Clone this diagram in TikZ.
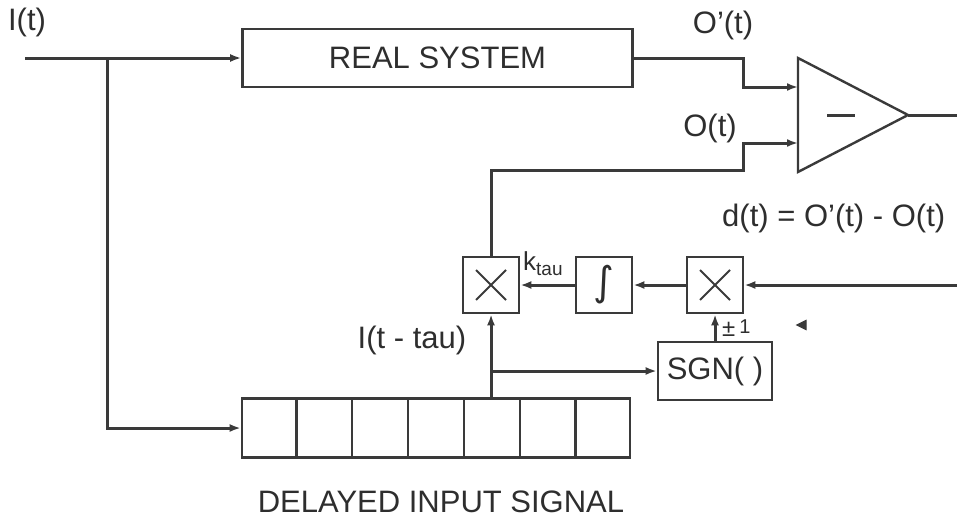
\documentclass[tikz,border=0pt]{standalone}
\usepackage{fontspec}
\setmainfont{Liberation Sans}
\newfontfamily\symfont{DejaVu Sans}
\usetikzlibrary{arrows.meta,calc}
\definecolor{ink}{HTML}{3A3A3A}
\definecolor{txt}{HTML}{2E2E2E}
\tikzset{
  sig/.style={draw=ink, line width=3pt},
  arr/.style={sig, -{Latex[length=11pt,width=8pt]}},
  blk/.style={draw=ink, line width=2.6pt, rectangle, inner sep=0pt},
  lbl/.style={text=txt, inner sep=0pt, font=\fontsize{31}{36}\selectfont},
  mult/.style={blk, minimum width=56pt, minimum height=56pt,
    path picture={\draw[ink, line width=1.8pt]
      ([shift={(13pt,13pt)}]path picture bounding box.south west) --
      ([shift={(-13pt,-13pt)}]path picture bounding box.north east)
      ([shift={(13pt,-13pt)}]path picture bounding box.north west) --
      ([shift={(-13pt,13pt)}]path picture bounding box.south east);}}
}
\begin{document}
\begin{tikzpicture}[x=1pt,y=-1pt]
\useasboundingbox (0,0) rectangle (957,519);

% blocks
\node[blk, minimum width=390pt, minimum height=58pt, text=txt,
      font=\fontsize{31}{36}\selectfont] (rs) at (437.5,58) {REAL SYSTEM};
\node[mult] (mulL) at (491,285) {};
\node[blk, minimum width=56pt, minimum height=56pt, text=txt] (integ) at (604,285)
     {\symfont\fontsize{40}{44}\selectfont ∫};
\node[mult] (mulR) at (715,285) {};
\node[blk, minimum width=114pt, minimum height=58pt, text=txt,
      font=\fontsize{31}{36}\selectfont] (sgn) at (715,371) {SGN( )};
\node[blk, minimum width=388pt, minimum height=59pt] (reg) at (436,428) {};
\foreach \i in {1,...,6}
  \draw[ink, line width=2.2pt] ($(reg.north west)!\i/7!(reg.north east)$) --
                                ($(reg.south west)!\i/7!(reg.south east)$);

% amplifier (subtractor)
\coordinate (ampT) at (798,58);
\coordinate (ampB) at (798,172);
\coordinate (ampO) at (908,115);
\coordinate (ampA) at (798,87);
\coordinate (ampC) at (798,143);
\draw[ink, line width=2.4pt, line join=miter] (ampT) -- (ampO) -- (ampB) -- cycle;
\draw[ink, line width=3pt] (827,115) -- (855,115);

% free ends
\coordinate (in) at (25,58);
\coordinate (br) at (107,58);
\coordinate (out) at (957,115);
\coordinate (din) at (957,285);

% connectors
\draw[arr] (in) -- (rs.west);
\draw[arr] (br) |- (reg.west);
\draw[arr] (rs.east) -- ++(110,0) |- (ampA);
\draw[arr] (mulL.north) |- ++(252,-85) |- (ampC);
\draw[sig] (ampO) -- (out);
\draw[arr] (din) -- (mulR.east);
\draw[arr] (mulR.west) -- (integ.east);
\draw[arr] (integ.west) -- (mulL.east);
\draw[arr] (sgn.north) -- (mulR.south);
\draw[arr] (reg.north -| mulL.south) -- (mulL.south);
\draw[arr] (sgn.west -| mulL.south) -- (sgn.west);

% small mark
\draw[ink, fill=ink, line width=1.2pt] (797,325) -- (806,320.5) -- (806,329.5) -- cycle;

% labels
\node[lbl] (lI) at (27,22) {I(t)};
\node[lbl] (lOp) at (723,25) {O'(t)};
\node[lbl] (lO) at (710,128) {O(t)};
\node[lbl, anchor=west] (ld) at (722,218) {d(t) = O'(t) - O(t)};
\node[lbl, anchor=west] (lk) at (523,264) {\fontsize{26}{30}\selectfont k\raisebox{-5pt}{\fontsize{19}{22}\selectfont tau}};
\node[lbl] (lItau) at (412,340) {I(t - tau)};
\node[lbl, anchor=west] (lpm) at (722,328) {\fontsize{24}{28}\selectfont ±\,\raisebox{3pt}{\fontsize{20}{24}\selectfont 1}};
\node[lbl, anchor=base] (ldel) at (441,512) {DELAYED INPUT SIGNAL};
\end{tikzpicture}
\end{document}
